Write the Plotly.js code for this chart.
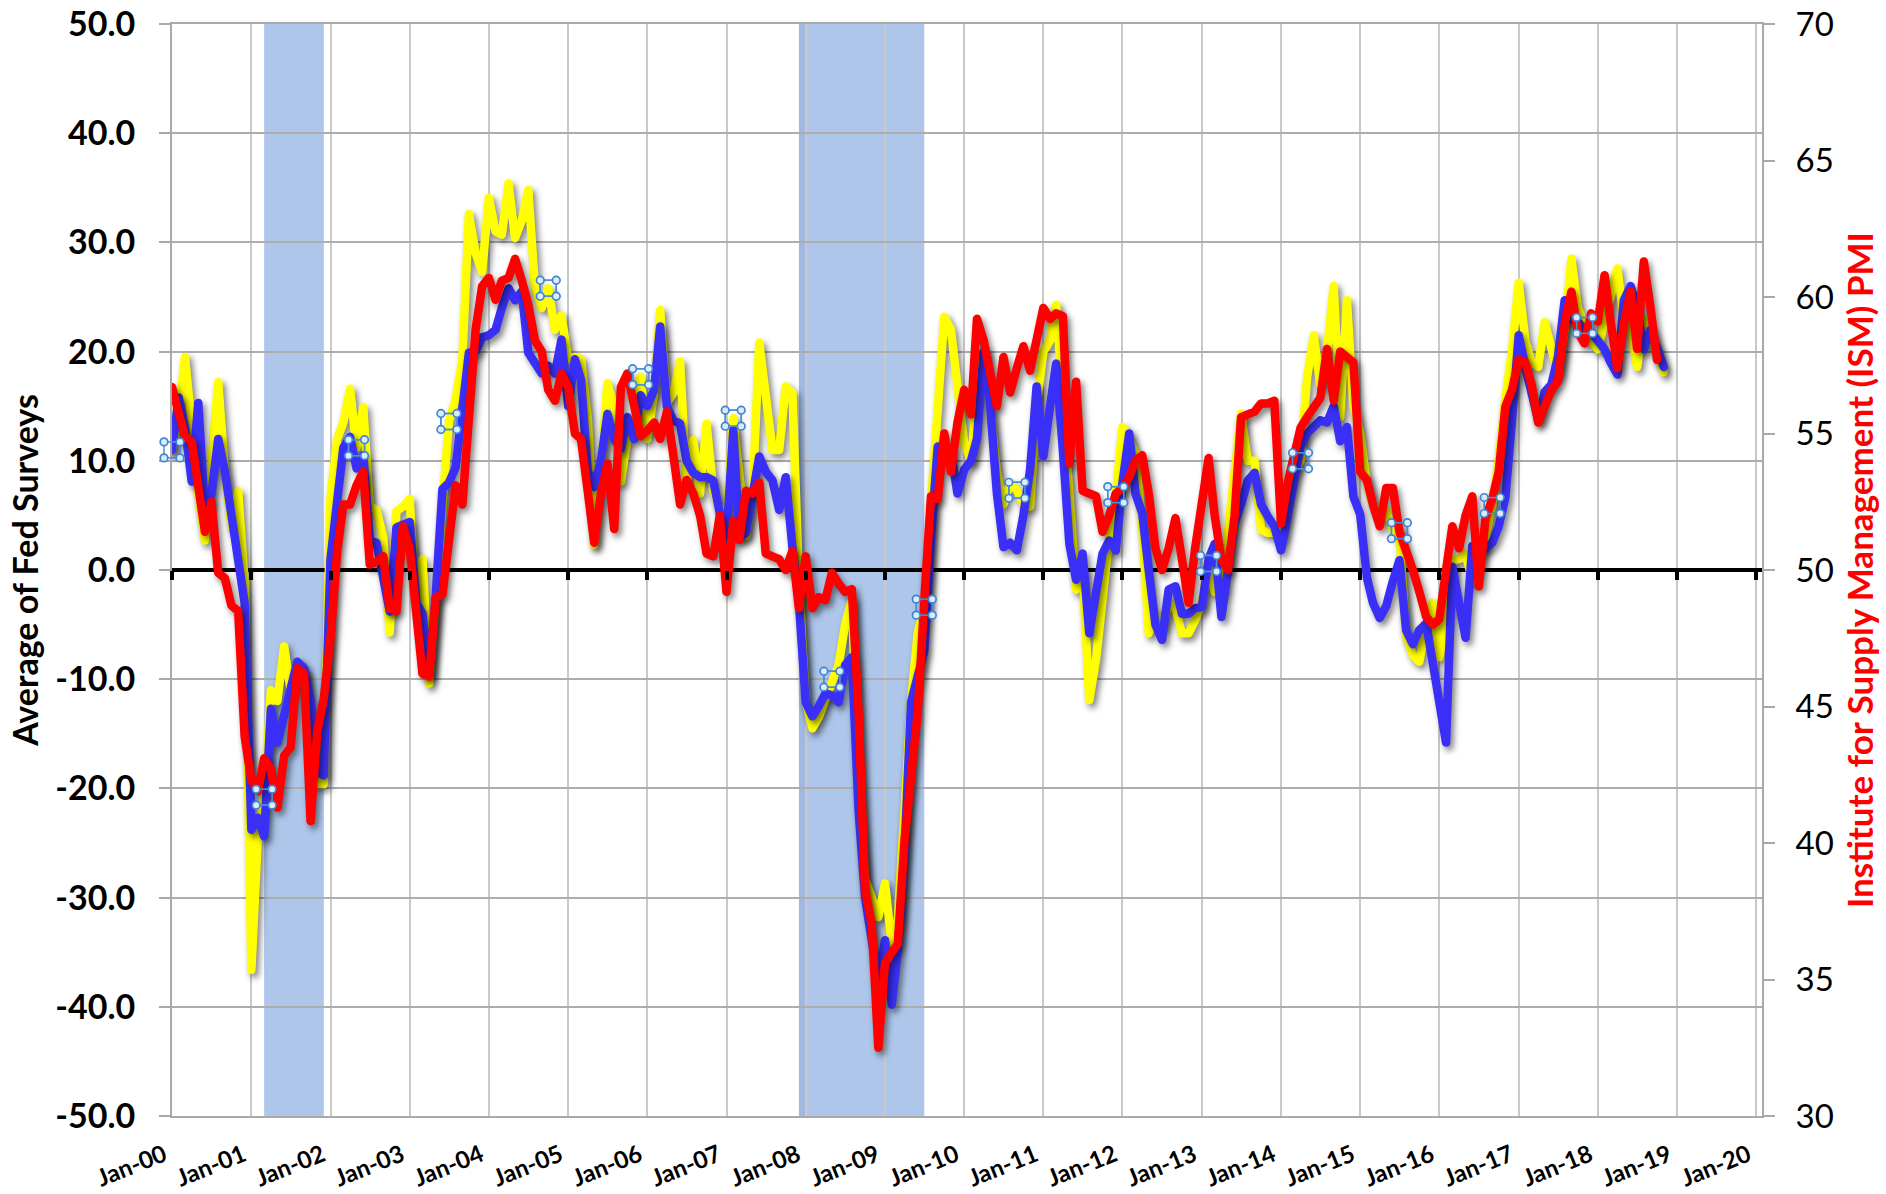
<!DOCTYPE html>
<html>
<head>
<meta charset="utf-8">
<script src="https://cdn.plot.ly/plotly-3.0.1.min.js"></script>
<style>
  html, body { margin: 0; padding: 0; background: #ffffff; }
  #chart { width: 1886px; height: 1194px; }
</style>
</head>
<body>
<div id="chart"></div>
<script>
// ---------------- DATA (monthly, Jan 2000 onward) ----------------
const startYear = 2000;

// Yellow series: average of Fed surveys (left axis)
const fedSurveyAvg = [
  [11, 14, 19.5, 12, 7, 2.7, 8.9, 17.2, 9, 4, 7.2, -1.1],                 // 2000
  [-36.6, -24, -20.8, -11, -12, -7, -11, -8.5, -9.5, -14, -19.6, -19.6],   // 2001
  [6.6, 12, 13.5, 16.6, 11.2, 14.9, 5.8, 5.5, 3, -5.7, 5.4, 5.8],          // 2002
  [6.5, -3.6, 1, -10.4, -2, 7.8, 13.6, 15.6, 19.3, 32.6, 29, 27.3],        // 2003
  [34.1, 31, 30.7, 35.4, 30.4, 32, 34.8, 25.8, 24, 25.8, 22, 23.3],        // 2004
  [19.3, 19.5, 19.3, 14, 2.3, 9, 17.1, 15, 8.1, 12, 13.1, 17.7],           // 2005
  [12, 16.2, 23.8, 15.3, 16.2, 19.1, 8, 11.9, 7, 13.4, 7.3, 5.5],          // 2006
  [4.3, 13.9, 8, 3.1, 7, 20.8, 16, 11, 11, 16.8, 16.2, -1],                // 2007
  [-12, -14.5, -13.5, -11.7, -10, -8.7, -5, -2.7, -20, -28.3, -30, -31.8], // 2008
  [-28.7, -34.3, -32, -22, -12, -5.7, -3.4, 6, 15, 23.2, 22, 16],          // 2009
  [11.6, 10, 16, 20, 14, 9, 6, 8, 7.3, 6, 5.8, 15],                        // 2010
  [20, 21, 24.3, 16, 6, -1.8, 0, -11.9, -8.2, -2, 3, 6.9],                 // 2011
  [13.1, 12, 10.7, 4, -5.8, -4, -5.2, -3, -3.5, -5.8, -5.8, -4.6],         // 2012
  [-3, 0.6, -2, -2, 3, 8, 14.3, 10, 10, 3.7, 3.4, 3.4],                    // 2013
  [3, 7, 9, 10, 17.6, 21.5, 17, 20, 26, 14, 24.7, 15],                     // 2014
  [12.5, 8, 6, 5, 5.5, 3.6, 3.6, -6, -7.8, -8.4, -5, -3],                  // 2015
  [-8, -4, 0.9, 1, 1.5, -1, 1, 3, 5.9, 10, 15.7, 20],                      // 2016
  [26.3, 21, 19, 18.6, 22.7, 20, 18, 22, 28.5, 24, 22.4, 21],              // 2017
  [20.2, 23, 25, 27.6, 23, 22, 18.6, 23, 21, 20, 18.1]                     // 2018
];

// Blue series: second Fed-survey average (left axis)
const fedSurveyBlue = [
  [11, 15.8, 13, 8.1, 15.3, 5.4, 7, 12, 9, 5, 1, -3],                          // 2000
  [-23.8, -22.7, -24.4, -12.7, -15.8, -13, -10.8, -8.4, -9, -12, -18.5, -18.8], // 2001
  [1, 7, 11.2, 12.2, 9.3, 10.5, 2.7, 2.5, -1.1, -3.8, 3.9, 4.2],                // 2002
  [4.4, -3, -4, -9.5, -2.4, 7.4, 8, 9.4, 15, 19.9, 20, 21.3],                   // 2003
  [21.5, 22, 24, 25.8, 24.7, 25.5, 19.9, 19, 18, 18.7, 18, 21.1],               // 2004
  [15, 19.3, 17.4, 9.1, 7.6, 10, 14.3, 12, 11.1, 14, 12, 16],                   // 2005
  [15, 16.5, 22.3, 15, 13.7, 13.4, 10, 8.9, 8.5, 8.5, 8.2, 5.2],                // 2006
  [3, 12.8, 3, 3.4, 7, 10.4, 9, 8.2, 5.5, 8.5, 2.1, -3],                        // 2007
  [-12.1, -13.4, -12.5, -11.3, -11.5, -12.1, -8.7, -8, -22, -30, -33.9, -37.7], // 2008
  [-33.9, -39.8, -34.7, -26, -12.1, -10, -7.4, 3, 11.3, 11, 10.9, 7],           // 2009
  [9.2, 10, 12, 20, 15, 7, 2.1, 2.5, 1.8, 5, 9.2, 16.8],                        // 2010
  [10.4, 15, 18.9, 11, 2.4, -0.9, 1.5, -5.8, -2, 1.5, 2.7, 1.8],                // 2011
  [8, 12.5, 7, 5.2, 0, -5, -6.4, -1.8, -1.5, -4, -4, -3.5],                     // 2012
  [-3.4, 1, 2.4, -4.3, 0, 4.3, 6, 8.2, 8.9, 6, 4.9, 4],                         // 2013
  [1.8, 5, 8.9, 11.3, 12.5, 13, 13.7, 13.5, 15, 11.8, 13.1, 6.7],               // 2014
  [5.1, -0.7, -3, -4.4, -3.3, -1, 0.9, -5.5, -6.8, -5.5, -4.9, -8.4],           // 2015
  [-12, -15.8, 0.3, -3, -6.2, 2.2, 2.3, 2, 2.5, 4, 6.7, 13.7],                  // 2016
  [21.5, 18.6, 16, 13.7, 16.3, 17, 19.5, 24.7, 23, 22.7, 22, 21.8],             // 2017
  [21, 20.2, 19, 17.9, 24.7, 26, 24, 20.2, 22, 20, 18.6]                        // 2018
];

// Red series: ISM manufacturing PMI (right axis)
const ismPmi = [
  [56.7, 55.8, 54.9, 54.7, 53.2, 51.4, 52.5, 49.9, 49.7, 48.7, 48.5, 43.9], // 2000
  [42.3, 41.9, 43.1, 42.7, 41.3, 43.2, 43.5, 46.4, 46.2, 40.8, 44.1, 45.3], // 2001
  [47.5, 50.7, 52.4, 52.4, 53.1, 53.6, 50.2, 50.3, 50.5, 48.6, 48.5, 51.6], // 2002
  [50.8, 48.5, 46.2, 46.1, 49.0, 49.1, 51.0, 53.1, 52.4, 55.6, 58.8, 60.4], // 2003
  [60.7, 59.9, 60.6, 60.7, 61.4, 60.6, 59.7, 58.4, 58.0, 56.6, 56.2, 57.2], // 2004
  [56.7, 55.0, 54.8, 52.9, 51.0, 52.8, 53.9, 51.5, 56.7, 57.2, 56.0, 54.9], // 2005
  [55.1, 55.4, 54.8, 55.8, 54.2, 52.4, 53.3, 52.8, 52.0, 50.6, 50.5, 52.0], // 2006
  [49.2, 51.8, 51.1, 52.9, 52.8, 53.2, 50.6, 50.5, 50.4, 50.0, 50.7, 48.6], // 2007
  [50.5, 48.6, 49.0, 48.9, 49.9, 49.5, 49.2, 49.3, 44.8, 38.3, 37.0, 32.5], // 2008
  [35.6, 36.0, 36.3, 40.1, 42.8, 44.8, 48.9, 52.7, 52.6, 55.0, 53.6, 55.4], // 2009
  [56.6, 55.7, 59.2, 58.4, 57.2, 56.0, 57.8, 56.5, 57.4, 58.2, 57.3, 58.6], // 2010
  [59.6, 59.2, 59.4, 59.3, 53.9, 56.9, 52.9, 52.8, 52.7, 51.4, 52.0, 52.8], // 2011
  [53.0, 53.4, 54.0, 54.2, 52.8, 50.8, 50.0, 50.8, 51.9, 50.4, 48.8, 50.8], // 2012
  [52.4, 54.1, 52.0, 50.4, 50.0, 52.0, 55.6, 55.7, 55.8, 56.1, 56.1, 56.2], // 2013
  [51.7, 53.2, 54.3, 55.2, 55.6, 56.0, 56.3, 58.1, 56.2, 58.0, 57.8, 57.6], // 2014
  [53.6, 53.3, 52.4, 51.6, 53.0, 53.0, 51.4, 50.8, 50.0, 49.2, 48.3, 48.0], // 2015
  [48.2, 50.0, 51.6, 50.8, 52.0, 52.7, 49.4, 51.9, 52.6, 53.6, 56.0, 56.6], // 2016
  [57.7, 57.6, 56.8, 55.4, 56.0, 56.6, 56.9, 59.0, 60.2, 58.7, 58.3, 59.4], // 2017
  [59.1, 60.8, 59.1, 57.4, 59.0, 60.2, 58.1, 61.3, 59.6, 57.7]              // 2018
];

// Points of the yellow series carrying selection handles (month index from Jan 2000)
const handleIdx = [0, 14, 28, 42, 57, 71, 85, 100, 114, 128, 143, 157, 171, 186, 200, 214];

// NBER recessions (shaded)
const recessions = [['2001-03-01', '2001-12-01'], ['2007-12-01', '2009-07-01']];
const recessionOverlap = [['2007-12-01', '2008-01-01']];

// Axis ticks
const yearTickText = ['Jan-00','Jan-01','Jan-02','Jan-03','Jan-04','Jan-05','Jan-06','Jan-07','Jan-08','Jan-09',
                      'Jan-10','Jan-11','Jan-12','Jan-13','Jan-14','Jan-15','Jan-16','Jan-17','Jan-18','Jan-19','Jan-20'];
const leftTicks = [50, 40, 30, 20, 10, 0, -10, -20, -30, -40, -50];
const leftTickText = ['50.0','40.0','30.0','20.0','10.0','0.0','-10.0','-20.0','-30.0','-40.0','-50.0'];
const rightTicks = [70, 65, 60, 55, 50, 45, 40, 35, 30];
const xRange = ['2000-01-01', '2020-01-28'];

// ---------------- BUILD ----------------
function monthDates(n) {
  const out = [];
  for (let i = 0; i < n; i++) {
    const y = startYear + Math.floor(i / 12), m = i % 12 + 1;
    out.push(y + '-' + String(m).padStart(2, '0') + '-01');
  }
  return out;
}
const yellowY = fedSurveyAvg.flat();
const blueY = fedSurveyBlue.flat();
const redY = ismPmi.flat();
const yearTickVals = yearTickText.map((t, i) => (startYear + i) + '-01-01');

const xYellow = monthDates(yellowY.length);
const xBlue = monthDates(blueY.length);
const xRed = monthDates(redY.length);

const FONT = 'Lato, "Open Sans", "DejaVu Sans", sans-serif';
const LW = 8.5;

const traces = [
  { x: xYellow, y: yellowY, xaxis: 'x', yaxis: 'y', type: 'scatter', mode: 'lines',
    line: { color: '#ffff00', width: LW }, name: 'Fed surveys (yellow)', hoverinfo: 'skip' },
  { x: xBlue, y: blueY, xaxis: 'x', yaxis: 'y', type: 'scatter', mode: 'lines',
    line: { color: '#3a2ff7', width: LW }, name: 'Fed surveys (blue)', hoverinfo: 'skip' },
  { x: handleIdx.map(i => xYellow[i]), y: handleIdx.map(i => yellowY[i]), xaxis: 'x', yaxis: 'y',
    type: 'scatter', mode: 'markers', name: 'handles', hoverinfo: 'skip',
    marker: { symbol: 'square-open', size: 16, color: '#4a8fd8', line: { width: 1.5, color: '#4a8fd8' } } },
  { x: [yearTickVals[0]], y: [0], xaxis: 'x2', yaxis: 'y', type: 'scatter', mode: 'markers',
    marker: { opacity: 0, size: 1 }, hoverinfo: 'skip', name: 'axis' },
  { x: xRed, y: redY, xaxis: 'x', yaxis: 'y2', type: 'scatter', mode: 'lines',
    line: { color: '#ff0000', width: LW }, name: 'ISM PMI', hoverinfo: 'skip' }
];

const shapes = [];
recessions.forEach(r => shapes.push({ type: 'rect', xref: 'x', yref: 'paper', x0: r[0], x1: r[1], y0: 0, y1: 1,
  fillcolor: '#adc6ea', line: { width: 0 }, layer: 'below' }));
recessionOverlap.forEach(r => shapes.push({ type: 'rect', xref: 'x', yref: 'paper', x0: r[0], x1: r[1], y0: 0, y1: 1,
  fillcolor: 'rgba(110,140,200,0.22)', line: { width: 0 }, layer: 'below' }));

const layout = {
  width: 1886, height: 1194,
  margin: { l: 172, r: 124, t: 24, b: 78, pad: 0 },
  paper_bgcolor: '#ffffff', plot_bgcolor: '#ffffff',
  showlegend: false,
  font: { family: FONT, color: '#000000' },
  xaxis: {
    type: 'date', range: xRange, autorange: false,
    tickmode: 'array', tickvals: yearTickVals, ticktext: yearTickText,
    tickangle: -22, tickfont: { family: FONT, size: 24, weight: 700, color: '#000' },
    ticklabelstandoff: 14, ticklabelshift: -8,
    showgrid: true, gridcolor: '#c9c9c9', gridwidth: 2,
    ticks: '', showline: true, linecolor: '#a9a9a9', linewidth: 2, mirror: true, zeroline: false
  },
  xaxis2: {
    type: 'date', range: xRange, autorange: false, overlaying: 'x', anchor: 'free', position: 0.5, side: 'bottom',
    tickmode: 'array', tickvals: yearTickVals, showticklabels: false,
    ticks: 'outside', ticklen: 9, tickwidth: 4, tickcolor: '#000000',
    showgrid: false, showline: false, zeroline: false
  },
  yaxis: {
    range: [-50, 50], autorange: false,
    tickmode: 'array', tickvals: leftTicks, ticktext: leftTickText,
    tickfont: { family: FONT, size: 34, weight: 700, color: '#000' },
    ticklabelstandoff: 17,
    showgrid: true, gridcolor: '#adadad', gridwidth: 2,
    zeroline: true, zerolinecolor: '#000000', zerolinewidth: 4,
    showline: true, linecolor: '#a9a9a9', linewidth: 2,
    ticks: 'outside', ticklen: 11, tickwidth: 2, tickcolor: '#a9a9a9',
    title: { text: 'Average of Fed Surveys', font: { family: FONT, size: 34, weight: 700, color: '#000' }, standoff: 6 }
  },
  yaxis2: {
    range: [30, 70], autorange: false, overlaying: 'y', side: 'right', anchor: 'x',
    tickmode: 'array', tickvals: rightTicks,
    tickfont: { family: FONT, size: 33, color: '#000' },
    ticklabelstandoff: 14,
    showgrid: false, zeroline: false,
    showline: true, linecolor: '#a9a9a9', linewidth: 2,
    ticks: 'outside', ticklen: 11, tickwidth: 2, tickcolor: '#a9a9a9',
    title: { text: 'Institute for Supply Management (ISM) PMI', font: { family: FONT, size: 35, weight: 700, color: '#ff0000' }, standoff: 16 }
  },
  shapes: shapes
};

const gd = document.getElementById('chart');
Plotly.newPlot(gd, traces, layout, { displayModeBar: false, responsive: false }).then(() => {
  // soft drop shadow under the thick lines
  gd.querySelectorAll('.scatterlayer .trace path.js-line').forEach(p => {
    p.style.filter = 'drop-shadow(3px 4px 3px rgba(0,0,0,0.5))';
    p.style.strokeLinejoin = 'round';
    p.style.strokeLinecap = 'round';
  });
  // selection-handle glyphs on the yellow series, drawn above everything via the axes' own scales
  const fl = gd._fullLayout;
  const xa = fl.xaxis, ya = fl.yaxis;
  const NS = 'http://www.w3.org/2000/svg';
  const svg = gd.querySelector('svg.main-svg');
  const g = document.createElementNS(NS, 'g');
  const d = 8;
  handleIdx.forEach(i => {
    const px = xa._offset + xa.c2p(xa.d2c(xYellow[i]));
    const py = ya._offset + ya.c2p(yellowY[i]);
    const sq = document.createElementNS(NS, 'rect');
    sq.setAttribute('x', px - d); sq.setAttribute('y', py - d);
    sq.setAttribute('width', 2 * d); sq.setAttribute('height', 2 * d);
    sq.setAttribute('fill', 'none'); sq.setAttribute('stroke', '#4a8fd8'); sq.setAttribute('stroke-width', '1.5');
    g.appendChild(sq);
    [[-d, -d], [d, -d], [-d, d], [d, d]].forEach(o => {
      const c = document.createElementNS(NS, 'circle');
      c.setAttribute('cx', px + o[0]); c.setAttribute('cy', py + o[1]); c.setAttribute('r', 3.8);
      c.setAttribute('fill', '#dcebf9'); c.setAttribute('stroke', '#3f85d4'); c.setAttribute('stroke-width', '1.7');
      g.appendChild(c);
    });
  });
  svg.appendChild(g);
});
</script>
</body>
</html>
